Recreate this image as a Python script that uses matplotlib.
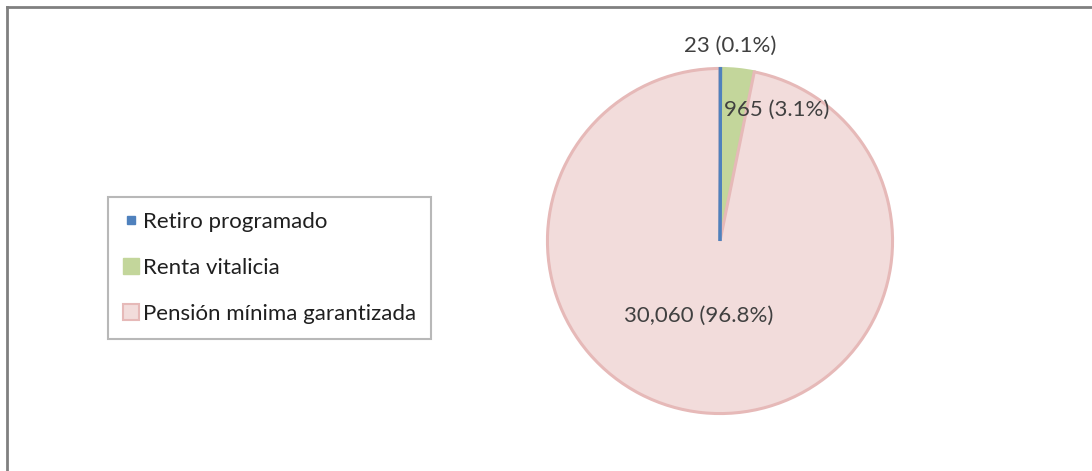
import matplotlib.pyplot as plt
from matplotlib.lines import Line2D
import numpy as np

plt.rcParams['font.family'] = ['Lato', 'DejaVu Sans']

# data
categories = ['Retiro programado', 'Renta vitalicia', 'Pensión mínima garantizada']
counts = [23, 965, 30060]
colors = ['#4F81BD', '#C3D69B', '#F2DCDB']
edges = ['#4F81BD', '#C3D69B', '#E6B9B8']

# label placement (angle in degrees, distance in radii) - mimics Excel best fit
label_angle = [87, 66.7, -106]
label_dist = [1.13, 0.83, 0.45]

W, H = 1092, 471
fig = plt.figure(figsize=(W / 100, H / 100), dpi=100)

# outer frame (top + left only visible)
fig.add_artist(Line2D([7 / W, 1], [1 - 7 / H, 1 - 7 / H], color='#808080', lw=2.0,
                      transform=fig.transFigure))
fig.add_artist(Line2D([7 / W, 7 / W], [0, 1 - 7 / H], color='#808080', lw=2.0,
                      transform=fig.transFigure))

cx, cy, r = 720, 241, 176
ax = fig.add_axes([(cx - r) / W, (H - cy - r) / H, 2 * r / W, 2 * r / H])
wedges, _ = ax.pie(counts, colors=colors, startangle=90, counterclock=False,
                   radius=1, wedgeprops=dict(linewidth=2.2))
for w, ec in zip(wedges, edges):
    w.set_edgecolor(ec)
# tiny slice: a bit thicker outline so it stays visible
wedges[0].set_linewidth(2.0)
wedges[0].set_zorder(5)
ax.set_xlim(-1.02, 1.02)
ax.set_ylim(-1.02, 1.02)
ax.axis('off')

total = sum(counts)
for n, a, d in zip(counts, label_angle, label_dist):
    t = np.deg2rad(a)
    ax.text(d * np.cos(t), d * np.sin(t), f'{n:,} ({n / total * 100:.1f}%)',
            ha='center', va='center', fontsize=16, color='#404040', clip_on=False,
            zorder=6)

handles = [
    Line2D([], [], marker='s', ls='', markersize=6, color=colors[0], markeredgecolor=edges[0]),
    Line2D([], [], marker='s', ls='', markersize=12, color=colors[1], markeredgecolor=edges[1]),
    Line2D([], [], marker='s', ls='', markersize=12, color=colors[2], markeredgecolor=edges[2],
           markeredgewidth=1.5),
]
leg = fig.legend(handles, categories, loc='upper left',
                 bbox_to_anchor=(108 / W, 1 - 197 / H), bbox_transform=fig.transFigure,
                 borderaxespad=0, fontsize=16, labelspacing=1.17, handlelength=0.7,
                 handletextpad=0.2, borderpad=0.68, fancybox=False, frameon=True)
leg.get_frame().set_edgecolor('#A6A6A6')
leg.get_frame().set_linewidth(1.5)
for t in leg.get_texts():
    t.set_color('#1F1F1F')

fig.savefig('out.png', dpi=100)
